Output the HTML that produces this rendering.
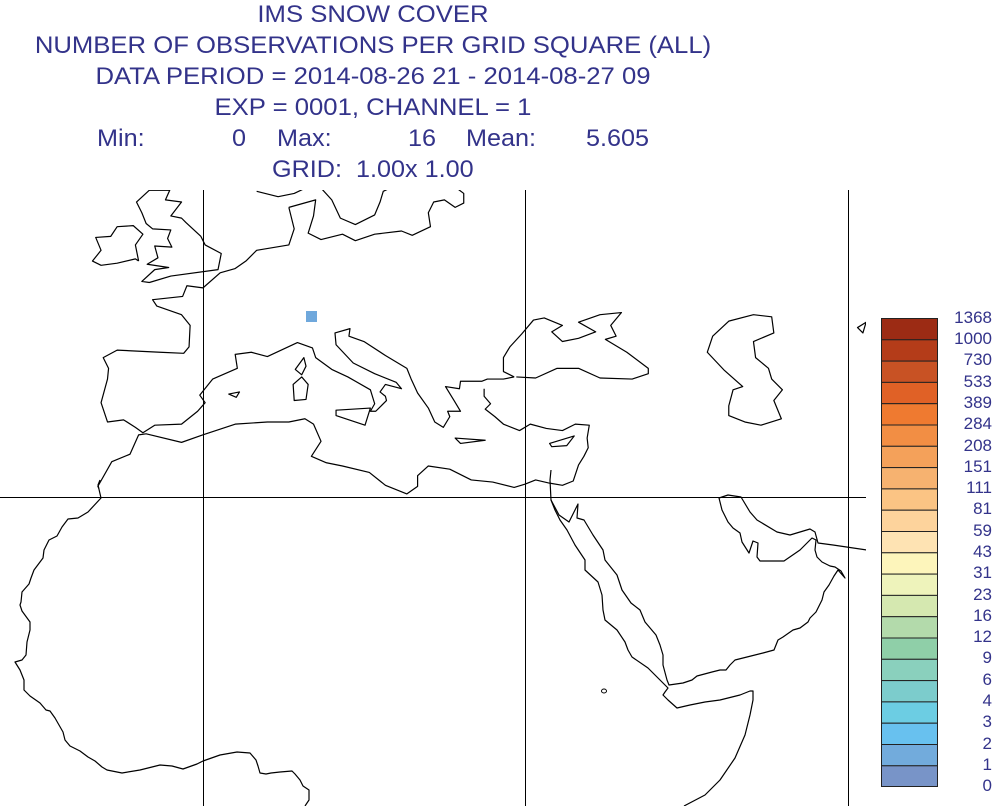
<!DOCTYPE html>
<html><head><meta charset="utf-8"><style>
body{margin:0;width:999px;height:806px;background:#fff;overflow:hidden;font-family:"Liberation Sans",sans-serif;color:#33338a;position:relative}
.t{position:absolute;font-size:24px;white-space:pre;line-height:28px}
.c{left:0;width:746px;text-align:center;transform:scaleX(1.07);transform-origin:373px 0}
.m{transform:scaleX(1.05);transform-origin:0 0}
.l{position:absolute;font-size:17px;right:7px;line-height:17px}
</style></head><body>
<div class="t c" style="top:1px">IMS SNOW COVER</div>
<div class="t c" style="top:32px">NUMBER OF OBSERVATIONS PER GRID SQUARE (ALL)</div>
<div class="t c" style="top:63px">DATA PERIOD = 2014-08-26 21 - 2014-08-27 09</div>
<div class="t c" style="top:94px">EXP = 0001, CHANNEL = 1</div>
<div class="t m" style="left:97px;top:125px">Min:</div>
<div class="t m" style="left:232px;top:125px">0</div>
<div class="t m" style="left:277px;top:125px">Max:</div>
<div class="t m" style="left:408px;top:125px">16</div>
<div class="t m" style="left:466px;top:125px">Mean:</div>
<div class="t m" style="left:586px;top:125px">5.605</div>
<div class="t m" style="left:272px;top:156px">GRID:  1.00x 1.00</div>
<svg width="999" height="806" style="position:absolute;left:0;top:0">
<defs><clipPath id="c"><rect x="0" y="190" width="866" height="616"/></clipPath></defs>
<g clip-path="url(#c)">
<rect x="306" y="311" width="11" height="11" fill="#6fa8dc"/>
<g stroke="#000" stroke-width="1" fill="none">
<line x1="203.5" y1="190" x2="203.5" y2="806"/><line x1="525.5" y1="190" x2="525.5" y2="806"/><line x1="848.5" y1="190" x2="848.5" y2="806"/><line x1="0" y1="497.5" x2="866" y2="497.5"/>
</g>
<g fill="none" stroke="#000" stroke-width="1.2" stroke-linejoin="round">
<polyline points="100,480 98,485 101,498 88,512 78,518 68,519 62,527 57,536 49,540 44,550 43,558 34,570 31,578 29,584 22,592 21,602 20,605 22,611 30,622 30,630 27,642 26,655 22,660 15,662 20,670 24,680 24,690 30,696 40,703 46,710 50,711 55,718 63,732 65,740 70,746 80,751 88,757 95,761 102,767 107,770 122,773 140,770 160,765 172,766 183,769 197,764 203,761 220,755 237,752 250,753 256,760 258,766 260,773 266,774 271,773 280,772 292,771 295,774 300,780 303,786 309,790 309,800 305,806"/>
<polyline points="551,470 550,480 551,500 555,510 560,520 567,530 575,545 585,560 585,570 598,582 602,595 603,610 605,620 617,630 625,642 628,650 632,657 648,668 660,680 668,688 665,692 663,695 668,700 677,708 690,705 705,702 720,700 740,695 750,691 753,691 753,700 750,715 745,735 735,758 720,780 705,795 684,806"/>
<polyline points="551,500 559,515 569,522 578,504 577,518 584,520 593,535 603,550 605,560 617,575 622,590 631,603 640,610 645,622 656,635 660,645 663,655 663,665 667,680 669,685 683,683 692,680 697,676 712,672 720,670 726,670 730,665 735,660 747,657 763,653 774,650 778,640 783,637 793,630 800,628 808,622 810,618 816,612 822,600 824,592 829,585 834,576 838,570 845,578 841,571 835,567 830,566 822,562 817,557 815,550 816,540 812,538 800,550 784,561 760,561 757,557 758,543 753,541 749,553 742,542 740,533 733,528 728,522 722,510 719,498 728,495 741,497 750,512 757,520 777,532 790,535 810,529 815,532 818,543 833,545 867,550"/>
<ellipse cx="604" cy="691" rx="2.5" ry="2" stroke-width="1"/>
</g>
<g transform="translate(203,819) scale(10.73,-10.73)" stroke="#000" fill="none" stroke-linejoin="round">
<polyline vector-effect="non-scaling-stroke" stroke-width="1.2" points="8,57 8.5,55 8,53.5 5,53 4,52 3,51.3 1.6,50.9 0,49.5 -1.5,49.7 -1.9,48.7 -4.7,48.4 -4.3,47.8 -2,47 -1.2,46 -1.3,44 -1.8,43.4 -4,43.5 -8,43.7 -9.3,43 -8.8,42 -8.9,41 -9.5,38.8 -8.9,37 -7.4,37.2 -6.3,36.5 -5.6,36 -4.5,36.7 -2,36.8 -0.5,38 0.2,38.8 -0.3,39.5 0.9,41 3.2,42 3,43.3 4.5,43.5 6,43.1 7.5,43.8 8.8,44.4 10.2,43.9 10.5,43 12,41.9 13.5,41.2 15.6,40 16,38.7 15.6,38 16.1,38 16.6,38.5 17.1,39 17,39.4 16.5,39.8 17,40.5 18.5,40.1 18,40.7 16,41.5 14,42.5 12.4,44.2 12.3,45.3 13.7,45.7 13.6,45 15,44.5 17,43.2 19,42 19.4,41 20,39.7 21,38.3 21.6,37 22.4,36.5 23,37.5 22.8,38 24,38 23.4,39 22.6,40.3 23.9,40.1 24,40.8 26,40.8 26.5,41 28,41 29,41.2"/>
<polyline vector-effect="non-scaling-stroke" stroke-width="1.2" points="29,41.2 28,41.7 28,43 28.6,44 29.7,45.2 30.8,46.5 31.8,46.7 33.5,46 32.5,45.4 33.5,44.5 35,44.8 36.6,45.4 35,46.3 37,47 39,47.2 38,46 38.5,45 37.5,44.7 39.5,43.5 41.5,42 41.5,41.5 40,41 37,41.1 35,42 33,42 31,41.1 29.2,41.2"/>
<polyline vector-effect="non-scaling-stroke" stroke-width="1.2" points="26.2,40.1 26.2,39.4 26.8,38.7 26.3,38.2 27.2,37.5 28,36.8 29.5,36.2 30.5,36.8 32,36.4 33.5,36.2 34.7,36.8 36,36.7 35.8,35.5 35.9,34.6 35.5,33.8 35,33 34.5,31.5 33.5,31.1 32.3,31.3 31,31.6 30,31.2 29,30.9 27,31.4 25,31.6 23,32.6 21,32.9 20,32 20,31 19,30.3 17,31.1 15.5,32.3 13,32.9 11.5,33.2 10.1,33.8 11,35.2 10.3,36.8 9.5,37.3 8,37 6,37 3,36.8 0,35.8 -2,35.1 -5.3,35.9 -6,35.8 -6.8,34 -8.5,33.3 -9.8,31 -9.7,30.8"/>
<polyline vector-effect="non-scaling-stroke" stroke-width="1.2" points="-5,50 -3,50.6 1.4,51.2 1.7,52.7 0.2,53.5 -0.2,54.3 -1.6,55.6 -2,56 -3,56.2 -2,57.5 -3.5,57.7 -3.1,58.6 -5,58.6 -6.2,57.5 -5.7,56.5 -5.3,55.5 -4.7,55 -3,54.9 -3.3,54.1 -2.9,53.3 -4.5,53.4 -4.2,52.3 -5.2,51.7 -3.2,51.4 -4.5,51.2 -5.7,50.1 -5,50"/>
<polyline vector-effect="non-scaling-stroke" stroke-width="1.2" points="-6,52 -6.3,53.5 -5.6,54.5 -6.5,55.3 -8,55.2 -8.6,54.3 -10,54.2 -9.5,53 -10.3,52 -9.5,51.6 -8,51.8 -6.3,52.2 -6,52"/>
<polyline vector-effect="non-scaling-stroke" stroke-width="1.2" points="5,58.5 7,58 8.5,58.3 10.6,59.3 11,58.8 12,57.7 12.8,56 14.2,55.4 16,56.3 16.5,57.5 16.8,58.5 18.5,59.3"/>
<polyline vector-effect="non-scaling-stroke" stroke-width="1.2" points="8,57 10.5,57.7 10.3,56.2 9.8,54.6 11,54 13,54.5 14.2,53.9 16,54.5 18.5,54.8 19.5,54.4 21.2,55.2 21,56.5 21.5,57.5 22.5,57.7 23.5,57 24.3,57.4 24.3,58.3 23.5,58.9 25,59.5 28,59.5"/>
<polygon vector-effect="non-scaling-stroke" stroke-width="1.2" points="9.4,43 9.6,42.2 9.2,41.4 8.6,41.9"/>
<polygon vector-effect="non-scaling-stroke" stroke-width="1.2" points="9.2,41.2 9.8,40.5 9.6,39.1 8.5,39 8.4,40.5"/>
<polygon vector-effect="non-scaling-stroke" stroke-width="1.2" points="12.4,38.1 15.6,38.3 15.1,36.7 12.4,37.6"/>
<polygon vector-effect="non-scaling-stroke" stroke-width="1.2" points="23.5,35.5 26.3,35.3 24,35"/>
<polygon vector-effect="non-scaling-stroke" stroke-width="1.2" points="32.3,35 34.6,35.7 33.9,34.8 32.5,34.7"/>
<polygon vector-effect="non-scaling-stroke" stroke-width="1.2" points="2.4,39.6 3.4,39.8 3.1,39.3"/>
<polygon vector-effect="non-scaling-stroke" stroke-width="1.2" points="47,43.5 47.5,45 49,46.4 51.3,47 53,46.8 53.2,45.3 51.3,44.5 51.5,43 52.7,42 53,41 54,40 53.2,39 53.9,37.3 52,36.7 50.5,37 49,37.6 49,38.5 49.4,40 50.3,40.3 48.6,41.8"/>
<polygon vector-effect="non-scaling-stroke" stroke-width="1.2" points="61,45.8 61.8,46.3 61.5,45.3"/>
</g>
</g>
<g stroke="#222" stroke-width="1">
<rect x="881.5" y="318.5" width="56" height="21.3" fill="#9c2b14"/>
<rect x="881.5" y="339.8" width="56" height="21.3" fill="#b43c19"/>
<rect x="881.5" y="361.1" width="56" height="21.3" fill="#c85224"/>
<rect x="881.5" y="382.4" width="56" height="21.3" fill="#e06126"/>
<rect x="881.5" y="403.7" width="56" height="21.3" fill="#ef7a30"/>
<rect x="881.5" y="425" width="56" height="21.3" fill="#f28e44"/>
<rect x="881.5" y="446.3" width="56" height="21.3" fill="#f4a15a"/>
<rect x="881.5" y="467.6" width="56" height="21.3" fill="#f6b270"/>
<rect x="881.5" y="488.9" width="56" height="21.3" fill="#fbc484"/>
<rect x="881.5" y="510.2" width="56" height="21.3" fill="#fdd39c"/>
<rect x="881.5" y="531.5" width="56" height="21.3" fill="#fee3b3"/>
<rect x="881.5" y="552.8" width="56" height="21.3" fill="#fdf5bb"/>
<rect x="881.5" y="574.1" width="56" height="21.3" fill="#eef3bb"/>
<rect x="881.5" y="595.4" width="56" height="21.3" fill="#d5e8b0"/>
<rect x="881.5" y="616.7" width="56" height="21.3" fill="#b3daab"/>
<rect x="881.5" y="638" width="56" height="21.3" fill="#8fcfa8"/>
<rect x="881.5" y="659.3" width="56" height="21.3" fill="#8ad0bd"/>
<rect x="881.5" y="680.6" width="56" height="21.3" fill="#7ccccc"/>
<rect x="881.5" y="701.9" width="56" height="21.3" fill="#6ccde3"/>
<rect x="881.5" y="723.2" width="56" height="21.3" fill="#68c1ef"/>
<rect x="881.5" y="744.5" width="56" height="21.3" fill="#72abdc"/>
<rect x="881.5" y="765.8" width="56" height="20.7" fill="#7894c8"/>
</g>
</svg>
<div class="l" style="top:309px">1368</div><div class="l" style="top:330px">1000</div><div class="l" style="top:351px">730</div><div class="l" style="top:373px">533</div><div class="l" style="top:394px">389</div><div class="l" style="top:415px">284</div><div class="l" style="top:437px">208</div><div class="l" style="top:458px">151</div><div class="l" style="top:479px">111</div><div class="l" style="top:500px">81</div><div class="l" style="top:522px">59</div><div class="l" style="top:543px">43</div><div class="l" style="top:564px">31</div><div class="l" style="top:586px">23</div><div class="l" style="top:607px">16</div><div class="l" style="top:628px">12</div><div class="l" style="top:649px">9</div><div class="l" style="top:671px">6</div><div class="l" style="top:692px">4</div><div class="l" style="top:713px">3</div><div class="l" style="top:735px">2</div><div class="l" style="top:756px">1</div><div class="l" style="top:777px">0</div>
</body></html>
